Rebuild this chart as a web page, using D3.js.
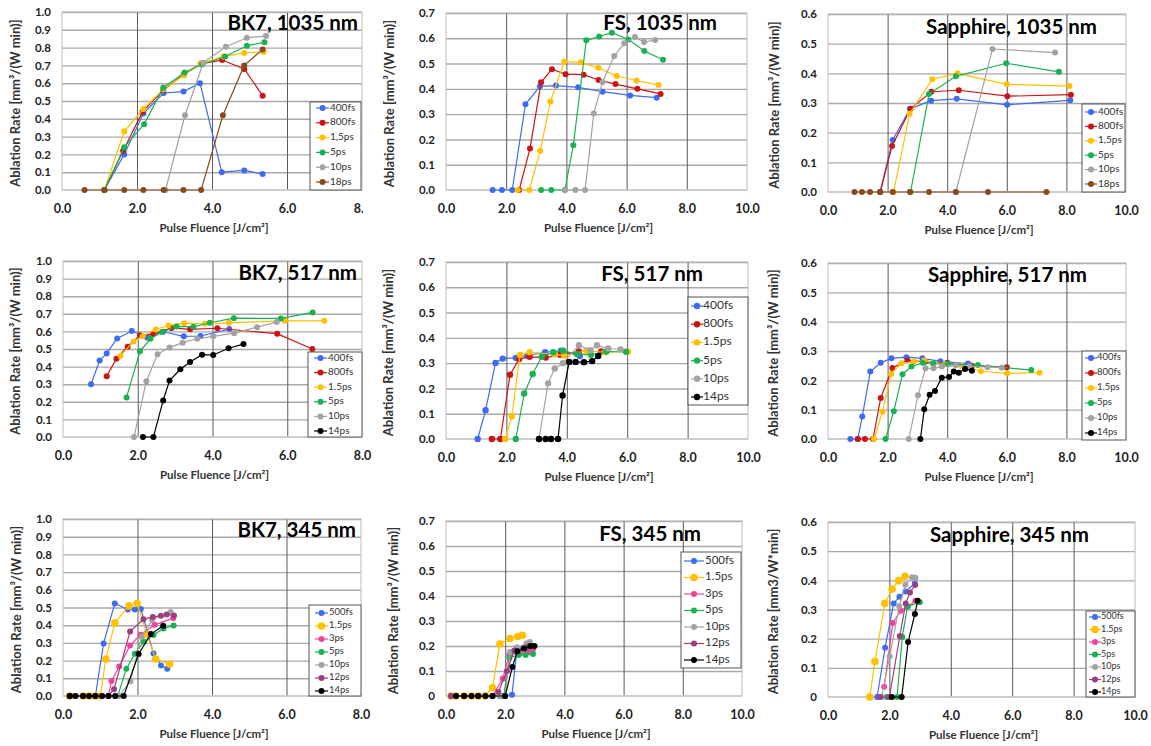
<!DOCTYPE html>
<html><head><meta charset="utf-8">
<script src="https://cdn.jsdelivr.net/npm/d3@7"></script>
<style>
body{margin:0;background:#fff;}
svg{display:block;font-family:Lato,"Open Sans",sans-serif;}
</style></head><body>
<svg id="c" width="1151" height="746"></svg>
<script>
// ---------- legend labels ----------
const labels1035comma = ["400fs","800fs","1,5ps","5ps","10ps","18ps"];
const labels1035FS = ["400fs","800fs","1,5ps","5ps","10ps"];
const labels517 = ["400fs","800fs","1.5ps","5ps","10ps","14ps"];
const labels345 = ["500fs","1.5ps","3ps","5ps","10ps","12ps","14ps"];
const colors1035 = ["#3d6cf2","#cc1414","#ffc000","#19b152","#a3a3a3","#8b4a1c"];
const colors517 = ["#3d6cf2","#cc1414","#ffc000","#19b152","#a3a3a3","#000000"];
const colors345 = ["#3d6cf2","#ffc000","#f0419b","#19b152","#a3a3a3","#9e3d80","#000000"];

// ---------- tick values ----------
const yTicks10 = [0,0.1,0.2,0.3,0.4,0.5,0.6,0.7,0.8,0.9,1.0];
const yTicks07 = [0,0.1,0.2,0.3,0.4,0.5,0.6,0.7];
const yTicks06 = [0,0.1,0.2,0.3,0.4,0.5,0.6];
const xTicks8 = [0,2,4,6,8];
const xTicks10 = [0,2,4,6,8,10];

// ---------- BK7, 1035 nm ----------
const b1_400fs = [[1.13,0],[1.66,0.2],[2.17,0.43],[2.71,0.545],[3.24,0.553],[3.68,0.6],[4.26,0.1],[4.86,0.11],[5.35,0.09]];
const b1_800fs = [[1.13,0],[1.63,0.22],[2.15,0.44],[2.7,0.56],[3.25,0.65],[3.7,0.71],[4.27,0.73],[4.86,0.68],[5.35,0.53]];
const b1_1_5ps = [[1.13,0],[1.66,0.33],[2.17,0.455],[2.7,0.565],[3.25,0.645],[3.7,0.71],[4.3,0.75],[4.86,0.77],[5.38,0.775]];
const b1_5ps = [[1.13,0],[1.66,0.24],[2.19,0.37],[2.7,0.575],[3.27,0.66],[3.73,0.705],[4.35,0.75],[4.93,0.81],[5.4,0.83]];
const b1_10ps = [[2.76,0],[3.28,0.42],[3.77,0.715],[4.37,0.805],[4.93,0.855],[5.44,0.865]];
const b1_18ps = [[0.6,0],[1.13,0],[1.66,0],[2.17,0],[2.71,0],[3.24,0],[3.71,0],[4.29,0.42],[4.86,0.7],[5.35,0.79]];

// ---------- FS, 1035 nm ----------
const f1_400fs = [[1.55,0],[1.86,0],[2.2,0],[2.64,0.339],[3.12,0.41],[3.65,0.413],[4.39,0.406],[5.2,0.389],[6.12,0.374],[7.0,0.365]];
const f1_800fs = [[2.43,0],[2.79,0.164],[3.16,0.426],[3.52,0.478],[3.97,0.458],[4.57,0.456],[5.07,0.435],[5.63,0.419],[6.36,0.4],[7.13,0.38]];
const f1_1_5ps = [[2.38,0],[2.77,0],[3.13,0.155],[3.47,0.35],[3.93,0.508],[4.48,0.505],[5.06,0.483],[5.67,0.451],[6.33,0.433],[7.06,0.415]];
const f1_5ps = [[3.16,0],[3.5,0],[3.95,0],[4.23,0.177],[4.66,0.592],[5.09,0.607],[5.51,0.622],[6.06,0.595],[6.59,0.55],[7.21,0.515]];
const f1_10ps = [[3.95,0],[4.3,0],[4.62,0],[4.91,0.303],[5.2,0.427],[5.59,0.53],[5.92,0.58],[6.28,0.605],[6.58,0.585],[6.95,0.593]];

// ---------- Sapphire, 1035 nm ----------
const s1_400fs = [[1.75,0],[2.17,0.175],[2.75,0.28],[3.46,0.308],[4.32,0.314],[6.01,0.294],[8.13,0.309]];
const s1_800fs = [[1.75,0],[2.15,0.155],[2.77,0.281],[3.47,0.338],[4.39,0.343],[6.02,0.323],[8.15,0.328]];
const s1_1_5ps = [[2.2,0],[2.74,0.264],[3.5,0.38],[4.35,0.4],[6.0,0.363],[8.1,0.357]];
const s1_5ps = [[2.77,0],[3.39,0.33],[4.29,0.39],[5.98,0.434],[7.75,0.405]];
const s1_10ps = [[4.29,0],[5.52,0.482],[7.62,0.47]];
const s1_18ps = [[0.89,0],[1.14,0],[1.41,0],[1.75,0],[2.17,0],[2.75,0],[3.39,0],[4.29,0],[5.37,0],[7.33,0]];

// ---------- BK7, 517 nm ----------
const b2_400fs = [[0.75,0.3],[0.98,0.434],[1.17,0.475],[1.45,0.56],[1.84,0.602],[2.25,0.566],[2.68,0.598],[3.23,0.572],[3.68,0.574],[4.45,0.613]];
const b2_800fs = [[1.17,0.345],[1.43,0.445],[1.73,0.513],[2.06,0.578],[2.41,0.585],[2.9,0.62],[3.4,0.612],[4.13,0.618],[5.73,0.587],[6.67,0.5]];
const b2_1_5ps = [[1.54,0.462],[1.89,0.543],[2.13,0.572],[2.48,0.611],[2.82,0.634],[3.24,0.647],[3.8,0.643],[4.44,0.649],[5.94,0.66],[6.99,0.66]];
const b2_5ps = [[1.7,0.225],[2.06,0.487],[2.34,0.558],[2.65,0.596],[3.04,0.628],[3.49,0.626],[3.93,0.649],[4.57,0.675],[5.83,0.674],[6.68,0.708]];
const b2_10ps = [[1.9,0],[2.23,0.317],[2.53,0.47],[2.85,0.508],[3.2,0.536],[3.59,0.558],[4.02,0.572],[4.58,0.59],[5.19,0.624],[5.72,0.653]];
const b2_14ps = [[2.14,0],[2.42,0],[2.68,0.208],[2.85,0.321],[3.14,0.385],[3.4,0.426],[3.72,0.468],[4.02,0.466],[4.43,0.504],[4.83,0.528]];

// ---------- FS, 517 nm ----------
const f2_400fs = [[1.05,0],[1.31,0.114],[1.64,0.301],[1.88,0.318],[2.31,0.321],[2.7,0.33],[3.28,0.343],[3.81,0.349],[4.43,0.328]];
const f2_800fs = [[1.52,0],[1.8,0],[2.12,0.254],[2.42,0.316],[2.77,0.325],[3.3,0.322],[3.78,0.333],[4.4,0.346],[5.14,0.346]];
const f2_1_5ps = [[1.96,0],[2.18,0.09],[2.45,0.332],[2.77,0.343],[3.6,0.335],[3.91,0.33],[4.65,0.349],[5.27,0.343],[6.03,0.345]];
const f2_5ps = [[2.31,0],[2.59,0.18],[2.87,0.257],[3.17,0.325],[3.55,0.343],[3.88,0.349],[4.34,0.336],[4.8,0.333],[5.31,0.346],[5.96,0.345]];
const f2_10ps = [[3.08,0],[3.38,0.22],[3.6,0.279],[3.87,0.3],[4.4,0.371],[4.78,0.351],[5.0,0.371],[5.37,0.358],[5.78,0.354]];
const f2_14ps = [[3.08,0],[3.3,0],[3.48,0],[3.71,0],[3.86,0.172],[4.08,0.305],[4.29,0.305],[4.57,0.304],[4.84,0.308],[5.04,0.328]];

// ---------- Sapphire, 517 nm ----------
const s2_400fs = [[0.75,0],[1.0,0],[1.15,0.077],[1.42,0.23],[1.77,0.26],[2.13,0.275],[2.63,0.279],[3.17,0.275],[3.77,0.265],[4.7,0.257]];
const s2_800fs = [[1.0,0],[1.24,0],[1.51,0],[1.77,0.14],[2.16,0.242],[2.67,0.268],[3.26,0.263],[4.0,0.26],[4.83,0.25],[6.0,0.245]];
const s2_1_5ps = [[1.54,0],[1.83,0.093],[2.12,0.222],[2.46,0.258],[2.88,0.264],[3.23,0.268],[3.92,0.255],[4.48,0.249],[5.13,0.231],[6.01,0.224],[7.1,0.226]];
const s2_5ps = [[1.93,0],[2.21,0.095],[2.5,0.221],[2.8,0.247],[3.18,0.26],[3.53,0.257],[4.02,0.256],[5.03,0.252],[6.82,0.235]];
const s2_10ps = [[2.71,0],[3.02,0.149],[3.27,0.241],[3.54,0.241],[3.82,0.247],[4.29,0.251],[4.74,0.248],[5.35,0.245],[5.83,0.243]];
const s2_14ps = [[3.1,0],[3.23,0.101],[3.41,0.151],[3.59,0.164],[3.82,0.209],[4.06,0.211],[4.22,0.23],[4.39,0.226],[4.6,0.239],[4.83,0.233]];

// ---------- BK7, 345 nm ----------
const b3_500fs = [[0.18,0],[0.34,0],[0.54,0],[0.7,0],[0.87,0],[1.09,0.297],[1.39,0.523],[1.74,0.489],[1.93,0.489],[2.09,0.492],[2.43,0.24],[2.63,0.173],[2.8,0.154]];
const b3_1_5ps = [[0.18,0],[0.54,0],[0.7,0],[0.87,0],[1.0,0],[1.15,0.209],[1.39,0.413],[1.77,0.509],[1.99,0.523],[2.25,0.348],[2.49,0.209],[2.86,0.18]];
const b3_3ps = [[0.18,0],[0.54,0],[0.87,0],[1.05,0],[1.22,0],[1.3,0.085],[1.51,0.167],[1.8,0.286],[2.08,0.346],[2.46,0.402],[2.96,0.44]];
const b3_5ps = [[0.18,0],[0.54,0],[0.87,0],[1.22,0],[1.47,0],[1.7,0.154],[1.93,0.239],[2.17,0.306],[2.43,0.344],[2.7,0.382],[2.97,0.398]];
const b3_10ps = [[0.18,0],[0.54,0],[0.87,0],[1.22,0],[1.5,0],[1.81,0.083],[2.11,0.335],[2.39,0.429],[2.89,0.475]];
const b3_12ps = [[0.18,0],[0.54,0],[0.87,0],[1.22,0],[1.37,0.038],[1.8,0.365],[2.16,0.434],[2.41,0.447],[2.63,0.453],[2.78,0.46],[2.98,0.455]];
const b3_14ps = [[0.18,0],[0.33,0],[0.54,0],[0.7,0],[0.87,0],[1.05,0],[1.22,0],[1.4,0],[1.63,0],[2.03,0.237],[2.36,0.35],[2.69,0.397]];

// ---------- FS, 345 nm ----------
const f3_500fs = [[0.17,0],[0.61,0],[1.09,0],[1.57,0],[1.88,0],[2.23,0.005],[2.39,0.176],[2.6,0.19],[2.83,0.2]];
const f3_1_5ps = [[0.17,0],[0.34,0],[0.61,0],[0.86,0],[1.09,0],[1.33,0],[1.57,0.033],[1.82,0.208],[2.16,0.23],[2.42,0.238],[2.58,0.243]];
const f3_3ps = [[0.17,0],[0.61,0],[1.09,0],[1.57,0],[1.92,0.07],[2.14,0.167],[2.5,0.172],[2.77,0.178],[2.94,0.187]];
const f3_5ps = [[0.34,0],[0.61,0],[1.09,0],[1.57,0],[1.95,0],[2.14,0.154],[2.46,0.164],[2.69,0.164],[2.94,0.168]];
const f3_10ps = [[0.34,0],[0.86,0],[1.33,0],[1.8,0],[2.0,0],[2.16,0.176],[2.4,0.195],[2.72,0.21],[2.83,0.216]];
const f3_12ps = [[0.17,0],[0.61,0],[1.09,0],[1.57,0],[1.77,0.016],[2.06,0.1],[2.31,0.182],[2.74,0.195],[2.94,0.2]];
const f3_14ps = [[0.34,0],[0.61,0],[0.86,0],[1.09,0],[1.33,0],[1.57,0],[2.0,0],[2.24,0.116],[2.41,0.179],[2.64,0.19],[2.85,0.2],[2.99,0.2]];

// ---------- Sapphire, 345 nm ----------
const s3_500fs = [[1.6,0],[1.86,0.169],[2.14,0.321],[2.33,0.344],[2.52,0.362],[2.83,0.389]];
const s3_1_5ps = [[1.36,0],[1.53,0.122],[1.85,0.321],[2.09,0.37],[2.3,0.399],[2.51,0.414]];
const s3_3ps = [[1.83,0.035],[2.11,0.254],[2.37,0.296],[2.6,0.31],[2.85,0.33]];
const s3_5ps = [[1.91,0],[2.25,0],[2.42,0.206],[2.59,0.31],[2.99,0.325]];
const s3_10ps = [[1.75,0],[2.01,0.14],[2.32,0.311],[2.52,0.385],[2.74,0.411],[2.85,0.409]];
const s3_12ps = [[1.7,0],[2.0,0],[2.34,0.209],[2.53,0.321],[2.67,0.358],[2.84,0.384]];
const s3_14ps = [[2.08,0],[2.4,0],[2.61,0.189],[2.83,0.285],[2.92,0.33]];

// ---------- panel layout ----------
const YT = "Ablation Rate [mm³/(W min)]";
const panels = [
 {title:"BK7, 1035 nm", tx:358, ty:30, area:[62,12,362,190], xMax:8, xt:xTicks8, yMax:1.0, yt:yTicks10,
  series:[b1_400fs,b1_800fs,b1_1_5ps,b1_5ps,b1_10ps,b1_18ps], names:labels1035comma, colors:colors1035, r:3,
  ytitle:YT, ytx:17, clip:[0,0,363,246],
  legend:{box:[310,102,51,88], y0:108, dy:14.8, fs:10, lx:[316,329], tx:330}},
 {title:"FS, 1035 nm", tx:717, ty:30, area:[446,13,747,190], xMax:10, xt:xTicks10, yMax:0.7, yt:yTicks07,
  series:[f1_400fs,f1_800fs,f1_1_5ps,f1_5ps,f1_10ps], names:labels1035FS, colors:colors1035, r:3,
  ytitle:YT, ytx:391, legend:null},
 {title:"Sapphire, 1035 nm", tx:1097, ty:34, area:[828,14,1126,192], xMax:10, xt:xTicks10, yMax:0.6, yt:yTicks06,
  series:[s1_400fs,s1_800fs,s1_1_5ps,s1_5ps,s1_10ps,s1_18ps], names:labels1035comma, colors:colors1035, r:3,
  ytitle:YT, ytx:776,
  legend:{box:[1082,104,43,88], y0:112, dy:14.4, fs:10, lx:[1085,1097], tx:1098}},
 {title:"BK7, 517 nm", tx:357, ty:280, area:[63,261,362,437], xMax:8, xt:xTicks8, yMax:1.0, yt:yTicks10,
  series:[b2_400fs,b2_800fs,b2_1_5ps,b2_5ps,b2_10ps,b2_14ps], names:labels517, colors:colors517, r:3,
  ytitle:YT, ytx:17,
  legend:{box:[308,352,54,85], y0:358, dy:14.6, fs:10, lx:[314,327], tx:328}},
 {title:"FS, 517 nm", tx:703, ty:281, area:[446,262,748,439], xMax:10, xt:xTicks10, yMax:0.7, yt:yTicks07,
  series:[f2_400fs,f2_800fs,f2_1_5ps,f2_5ps,f2_10ps,f2_14ps], names:labels517, colors:colors517, r:3.2,
  ytitle:YT, ytx:390,
  legend:{box:[688,297,60,108], y0:306, dy:18.2, fs:12, lx:[691,703], tx:703}},
 {title:"Sapphire, 517 nm", tx:1087, ty:282, area:[828,263,1126,439], xMax:10, xt:xTicks10, yMax:0.6, yt:yTicks06,
  series:[s2_400fs,s2_800fs,s2_1_5ps,s2_5ps,s2_10ps,s2_14ps], names:labels517, colors:colors517, r:3,
  ytitle:YT, ytx:775,
  legend:{box:[1082,351,44,89], y0:358, dy:15, fs:9.5, lx:[1085,1097], tx:1097}},
 {title:"BK7, 345 nm", tx:356, ty:537, area:[63,519,361,696], xMax:8, xt:xTicks8, yMax:1.0, yt:yTicks10,
  series:[b3_500fs,b3_1_5ps,b3_3ps,b3_5ps,b3_10ps,b3_12ps,b3_14ps], names:labels345, colors:colors345, r:3, rs:[3,3.8,3,3,3,3,3],
  ytitle:YT, ytx:18,
  legend:{box:[309,605,52,91], y0:613, dy:13, fs:9.5, lx:[315,328], tx:329}},
 {title:"FS, 345 nm", tx:701, ty:541, area:[446,521,742,696], xMax:10, xt:xTicks10, yMax:0.7, yt:yTicks07, zeroLabel:"0",
  series:[f3_500fs,f3_1_5ps,f3_3ps,f3_5ps,f3_10ps,f3_12ps,f3_14ps], names:labels345, colors:colors345, r:3, rs:[3,3.8,3,3,3,3,3],
  ytitle:YT, ytx:395,
  legend:{box:[681,552,60,116], y0:561, dy:16.5, fs:11.5, lx:[684,704], tx:705}},
 {title:"Sapphire, 345 nm", tx:1089, ty:542, area:[828,522,1135,697], xMax:10, xt:xTicks10, yMax:0.6, yt:yTicks06, zeroLabel:"0",
  series:[s3_500fs,s3_1_5ps,s3_3ps,s3_5ps,s3_10ps,s3_12ps,s3_14ps], names:labels345, colors:colors345, r:3, rs:[3,3.8,3,3,3,3,3],
  ytitle:"Ablation Rate [mm3/W*min]", ytx:775,
  legend:{box:[1086,611,49,86], y0:617, dy:12.5, fs:9, lx:[1089,1101], tx:1101}}
];

const svg = d3.select("#c");
const defs = svg.append("defs");

panels.forEach((p, i) => {
  let g = svg.append("g");
  if (p.clip) {
    defs.append("clipPath").attr("id","clip"+i).append("rect")
      .attr("x",p.clip[0]).attr("y",p.clip[1]).attr("width",p.clip[2]).attr("height",p.clip[3]);
    g.attr("clip-path","url(#clip"+i+")");
  }
  const [L,T,R,B] = p.area;
  const x = d3.scaleLinear().domain([0,p.xMax]).range([L,R]);
  const y = d3.scaleLinear().domain([0,p.yMax]).range([B,T]);

  // horizontal gridlines
  const gh = g.append("g").attr("transform",`translate(${L},0)`)
    .call(d3.axisLeft(y).tickValues(p.yt.slice(1)).tickSize(-(R-L)).tickFormat(""));
  gh.select(".domain").remove();
  gh.selectAll("line").attr("stroke","#a8a8a8").attr("stroke-width",1.4);
  // vertical gridlines
  const gv = g.append("g").attr("transform",`translate(0,${B})`)
    .call(d3.axisBottom(x).tickValues(p.xt.slice(1,-1)).tickSize(-(B-T)).tickFormat(""));
  gv.select(".domain").remove();
  gv.selectAll("line").attr("stroke","#5a5a5a").attr("stroke-width",1);
  // frame
  g.append("rect").attr("x",L).attr("y",T).attr("width",R-L).attr("height",B-T)
    .attr("fill","none").attr("stroke","#bdbdbd").attr("stroke-width",1);
  g.append("line").attr("x1",L).attr("x2",R).attr("y1",B).attr("y2",B).attr("stroke","#c8c8c8").attr("stroke-width",1.5);

  // tick labels
  const ya = g.append("g").attr("transform",`translate(${L},0)`)
    .call(d3.axisLeft(y).tickValues(p.yt).tickSize(0).tickPadding(11)
      .tickFormat(v => (v===0 && p.zeroLabel) ? p.zeroLabel : d3.format(".1f")(v)));
  ya.select(".domain").remove();
  ya.selectAll("text").attr("font-size",11.5).attr("font-weight","bold").attr("fill","#222").attr("font-family","Lato");
  const xa = g.append("g").attr("transform",`translate(0,${B})`)
    .call(d3.axisBottom(x).tickValues(p.xt).tickSize(0).tickPadding(14).tickFormat(d3.format(".1f")));
  xa.select(".domain").remove();
  xa.selectAll("text").attr("font-size",12.5).attr("font-weight","bold").attr("fill","#222").attr("font-family","Lato");

  // axis titles
  g.append("text").attr("transform",`translate(${p.ytx},${(T+B)/2+2}) rotate(-90)`)
    .attr("text-anchor","middle").attr("dominant-baseline","middle")
    .attr("font-size",13).attr("font-weight","bold").attr("fill","#333")
    .text(p.ytitle);
  g.append("text").attr("x",(L+R)/2+2).attr("y",B+42)
    .attr("text-anchor","middle").attr("font-size",11.5).attr("font-weight","bold").attr("fill","#333")
    .text("Pulse Fluence [J/cm²]");

  // series
  const line = d3.line().x(d=>x(d[0])).y(d=>y(d[1]));
  p.series.forEach((s, k) => {
    const c = p.colors[k];
    const rr = p.rs ? p.rs[k] : p.r;
    const sg = g.append("g");
    sg.append("path").attr("d",line(s)).attr("fill","none").attr("stroke",c).attr("stroke-width",1.2);
    sg.selectAll("circle").data(s).join("circle")
      .attr("cx",d=>x(d[0])).attr("cy",d=>y(d[1])).attr("r",rr).attr("fill",c);
  });

  // title
  g.append("text").attr("x",p.tx).attr("y",p.ty).attr("text-anchor","end")
    .attr("font-size",20.5).attr("font-weight","bold").attr("fill","#000").text(p.title);

  // legend
  if (p.legend) {
    const lg = p.legend;
    g.append("rect").attr("x",lg.box[0]).attr("y",lg.box[1]).attr("width",lg.box[2]).attr("height",lg.box[3])
      .attr("fill","#fff").attr("stroke","#555").attr("stroke-width",1);
    p.names.forEach((n, k) => {
      const yy = lg.y0 + k*lg.dy;
      const c = p.colors[k];
      const rr = p.rs ? p.rs[k] : p.r;
      g.append("line").attr("x1",lg.lx[0]).attr("x2",lg.lx[1]).attr("y1",yy).attr("y2",yy).attr("stroke",c).attr("stroke-width",1.2);
      g.append("circle").attr("cx",(lg.lx[0]+lg.lx[1])/2).attr("cy",yy).attr("r",rr).attr("fill",c);
      g.append("text").attr("x",lg.tx).attr("y",yy).attr("dominant-baseline","middle")
        .attr("font-size",lg.fs).attr("fill","#333").text(n);
    });
  }
});
</script>
</body></html>
